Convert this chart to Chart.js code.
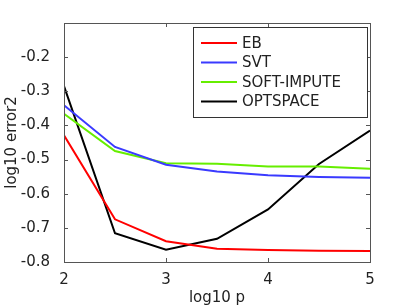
<!DOCTYPE html>
<html>
<head>
<meta charset="utf-8">
<script src="https://cdn.jsdelivr.net/npm/chart.js@4"></script>
<style>
  html, body { margin: 0; padding: 0; background: #fff; }
  #wrap { width: 409px; height: 308px; }
</style>
</head>
<body>
<div id="wrap"><canvas id="errChart" width="409" height="308"></canvas></div>
<script>
const logP = [2, 2.5, 3, 3.5, 4, 4.5, 5];
const ebErr = [-0.429, -0.675, -0.739, -0.761, -0.765, -0.767, -0.768];
const svtErr = [-0.341, -0.463, -0.515, -0.535, -0.546, -0.551, -0.553];
const softErr = [-0.366, -0.475, -0.511, -0.512, -0.520, -0.520, -0.527];
const optErr = [-0.285, -0.716, -0.764, -0.732, -0.646, -0.513, -0.415];
const xTicks = [2, 3, 4, 5];
const yTicks = [-0.8, -0.7, -0.6, -0.5, -0.4, -0.3, -0.2];

const FONT = 'DejaVu Sans, sans-serif';

function pts(ys) {
  return logP.map((x, i) => ({ x: x, y: ys[i] }));
}

function line(label, ys, color) {
  return {
    label: label,
    data: pts(ys),
    borderColor: color,
    backgroundColor: color,
    borderWidth: 2,
    pointRadius: 0,
    tension: 0,
    fill: false
  };
}

// frame with inward ticks on all four sides, plus the boxed legend
const framePlugin = {
  id: 'frame',
  afterDraw(chart) {
    const ctx = chart.ctx;
    const a = chart.chartArea;
    const xs = chart.scales.x;
    const ys = chart.scales.y;
    ctx.save();
    ctx.strokeStyle = '#555';
    ctx.lineWidth = 1;
    ctx.strokeRect(a.left + 0.5, a.top + 0.5, a.right - a.left, a.bottom - a.top);
    ctx.beginPath();
    xTicks.forEach(v => {
      const px = Math.round(xs.getPixelForValue(v)) + 0.5;
      ctx.moveTo(px, a.bottom); ctx.lineTo(px, a.bottom - 4);
      ctx.moveTo(px, a.top); ctx.lineTo(px, a.top + 4);
    });
    yTicks.forEach(v => {
      const py = Math.round(ys.getPixelForValue(v)) + 0.5;
      ctx.moveTo(a.left, py); ctx.lineTo(a.left + 4, py);
      ctx.moveTo(a.right, py); ctx.lineTo(a.right - 4, py);
    });
    ctx.stroke();

    // legend
    const lx = a.left + 129, ly = a.top + 4, lw = 174, lh = 90;
    ctx.fillStyle = '#fff';
    ctx.fillRect(lx, ly, lw, lh);
    ctx.strokeStyle = '#333';
    ctx.strokeRect(lx + 0.5, ly + 0.5, lw, lh);
    ctx.font = '15px ' + FONT;
    ctx.textBaseline = 'middle';
    chart.data.datasets.forEach((ds, i) => {
      const cy = ly + 16 + i * 19.5;
      ctx.strokeStyle = ds.borderColor;
      ctx.lineWidth = 2;
      ctx.beginPath();
      ctx.moveTo(lx + 8, cy); ctx.lineTo(lx + 44, cy);
      ctx.stroke();
      ctx.fillStyle = '#222';
      ctx.fillText(ds.label, lx + 49, cy + 1);
    });
    ctx.restore();
  }
};

new Chart(document.getElementById('errChart'), {
  type: 'line',
  data: {
    datasets: [
      line('EB', ebErr, '#ff0000'),
      line('SVT', svtErr, '#3a3aff'),
      line('SOFT-IMPUTE', softErr, '#66ee00'),
      line('OPTSPACE', optErr, '#000000')
    ]
  },
  options: {
    responsive: false,
    animation: false,
    layout: { padding: { top: 23, right: 39, left: 0, bottom: 0 } },
    plugins: { legend: { display: false }, tooltip: { enabled: false } },
    scales: {
      x: {
        type: 'linear',
        min: 2,
        max: 5,
        afterBuildTicks(s) { s.ticks = xTicks.map(v => ({ value: v })); },
        afterFit(s) { s.height = 46; },
        grid: { display: false },
        border: { display: false },
        ticks: {
          color: '#222',
          font: { family: FONT, size: 15 },
          padding: 1,
          maxRotation: 0
        },
        title: {
          display: true,
          text: 'log10 p',
          color: '#222',
          font: { family: FONT, size: 15 },
          padding: { top: 0, bottom: 1 }
        }
      },
      y: {
        type: 'linear',
        min: -0.8,
        max: -0.1,
        afterBuildTicks(s) { s.ticks = yTicks.map(v => ({ value: v })); },
        afterFit(s) { s.width = 64; },
        grid: { display: false },
        border: { display: false },
        ticks: {
          color: '#222',
          font: { family: FONT, size: 15 },
          padding: 6,
          callback: v => v.toFixed(1)
        },
        title: {
          display: true,
          text: 'log10 error2',
          color: '#222',
          font: { family: FONT, size: 15 },
          padding: { top: 3, bottom: 0 }
        }
      }
    }
  },
  plugins: [framePlugin]
});
</script>
</body>
</html>
